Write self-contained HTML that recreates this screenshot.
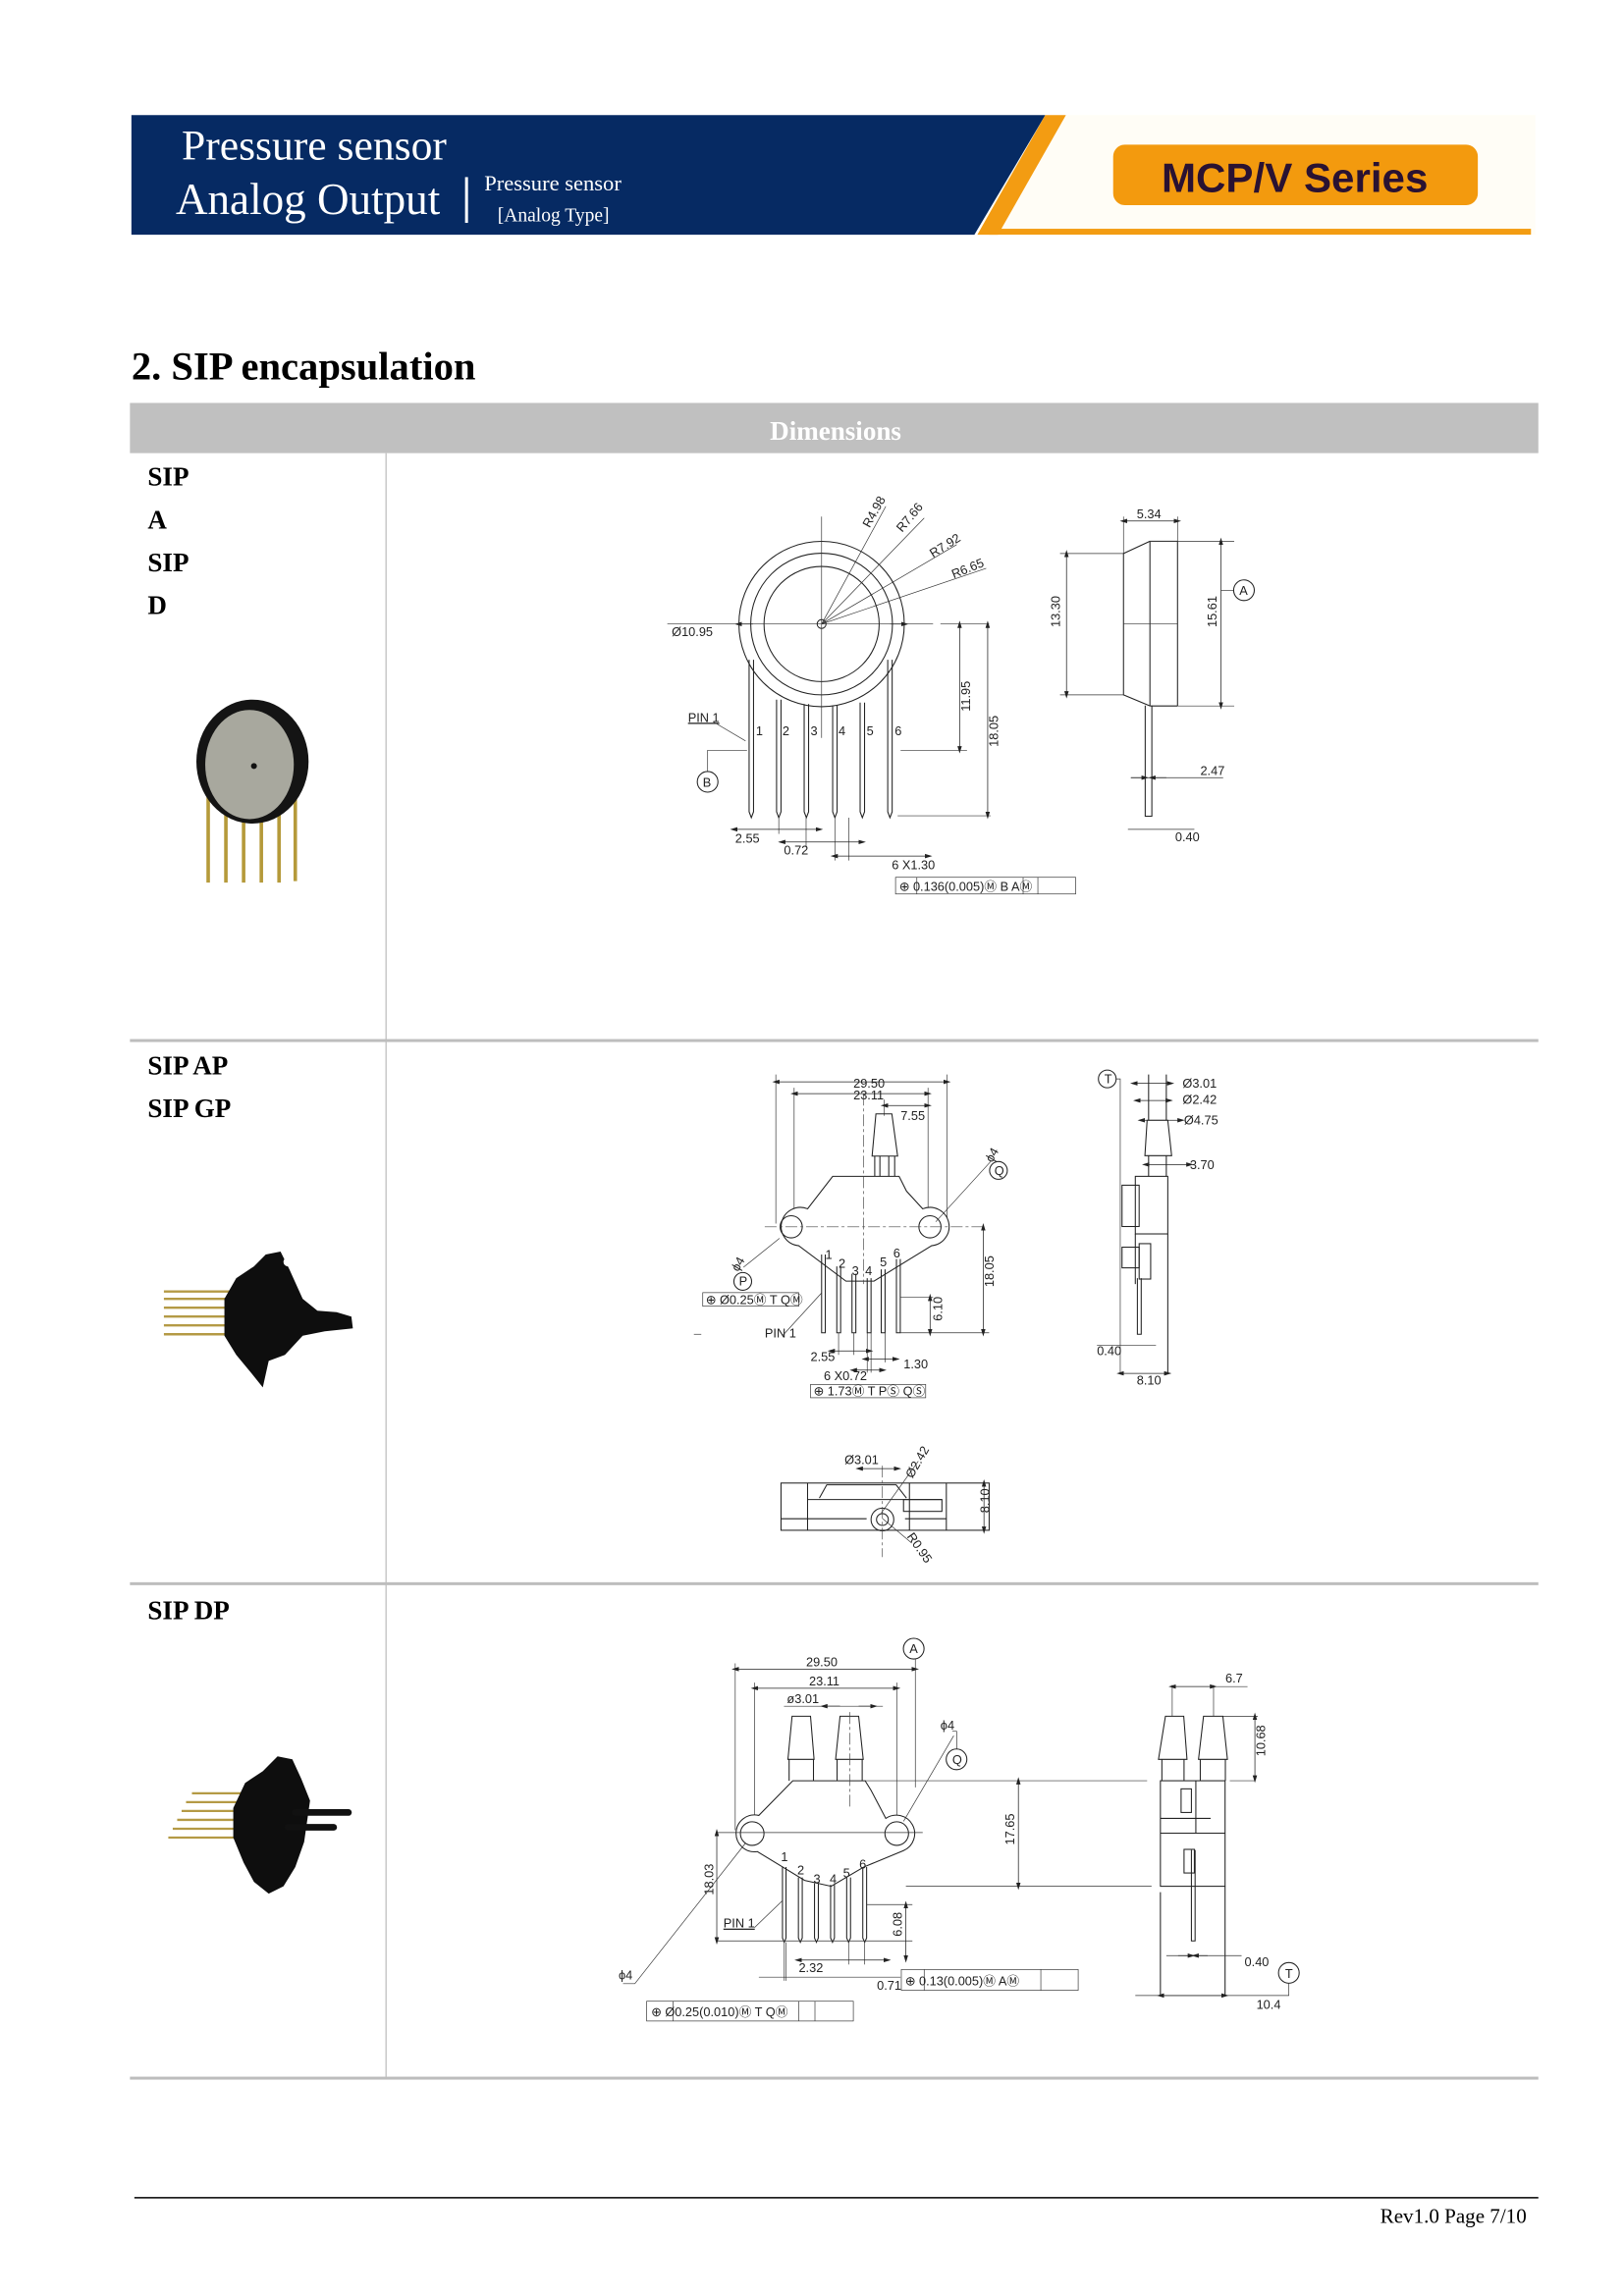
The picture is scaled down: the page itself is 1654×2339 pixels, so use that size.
<!DOCTYPE html>
<html><head><meta charset="utf-8"><style>
html,body{margin:0;padding:0;background:#fff;}
svg{display:block;}
.l{stroke:#222;stroke-width:0.7;fill:none;}
.t{stroke:#333;stroke-width:0.45;fill:none;}
.d{stroke:#222;stroke-width:0.5;fill:none;marker-start:url(#a);marker-end:url(#a);}
.c{stroke:#444;stroke-width:0.45;fill:none;stroke-dasharray:8 2 2 2;}
.tx{font-family:"Liberation Sans Narrow","Liberation Sans",sans-serif;font-size:8.5px;fill:#222;}
.lab{font-family:"Liberation Serif",serif;font-weight:bold;font-size:18px;fill:#000;}
</style></head><body>
<svg width="1654" height="2339" viewBox="0 0 1100 1555.6" xmlns="http://www.w3.org/2000/svg">
<defs>
<marker id="a" viewBox="0 0 10 10" refX="5" refY="5" markerWidth="5" markerHeight="5" markerUnits="userSpaceOnUse" orient="auto-start-reverse"><path d="M0,2 L10,5 L0,8 Z" fill="#222"/></marker>
</defs>

<!-- Header -->
<rect x="668" y="78" width="372" height="81" fill="#fffdf6"/>
<polygon points="89,78 708,78 660,159 89,159" fill="#062a63"/>
<polygon points="708,78 722,78 676,159 662,159" fill="#f39c12"/>
<rect x="670" y="155" width="367" height="4" fill="#f39c12"/>
<rect x="754" y="98" width="247" height="41" rx="8" fill="#f39a0e"/>
<text x="877" y="130" text-anchor="middle" font-family="Liberation Sans,sans-serif" font-weight="bold" font-size="28" fill="#2a1232">MCP/V Series</text>
<text x="123" y="108" font-family="Liberation Serif,serif" font-size="29" fill="#fff">Pressure sensor</text>
<text x="119" y="145" font-family="Liberation Serif,serif" font-size="30" fill="#fff">Analog Output</text>
<rect x="315" y="120" width="2" height="31" fill="#fff"/>
<text x="328" y="129" font-family="Liberation Serif,serif" font-size="15" fill="#fff">Pressure sensor</text>
<text x="337" y="150" font-family="Liberation Serif,serif" font-size="13" fill="#fff">[Analog Type]</text>

<!-- Title -->
<text x="89" y="257" font-family="Liberation Serif,serif" font-weight="bold" font-size="27" fill="#000">2. SIP encapsulation</text>
<rect x="88" y="273" width="954" height="34" fill="#c0c0c0"/>
<text x="566" y="298" text-anchor="middle" font-family="Liberation Serif,serif" font-weight="bold" font-size="18" fill="#fff">Dimensions</text>
<line x1="261.5" y1="307" x2="261.5" y2="1408" stroke="#c8c8c8" stroke-width="1"/>
<rect x="88" y="704" width="954" height="2" fill="#bdbdbd"/>
<rect x="88" y="1072" width="954" height="2" fill="#bdbdbd"/>
<rect x="88" y="1407" width="954" height="2" fill="#bdbdbd"/>
<text class="lab" x="100" y="329">SIP</text>
<text class="lab" x="100" y="358">A</text>
<text class="lab" x="100" y="387">SIP</text>
<text class="lab" x="100" y="416">D</text>
<text class="lab" x="100" y="728">SIP AP</text>
<text class="lab" x="100" y="757">SIP GP</text>
<text class="lab" x="100" y="1097">SIP DP</text>

<!-- Footer -->
<line x1="91" y1="1489" x2="1042" y2="1489" stroke="#000" stroke-width="1"/>
<text x="1034" y="1506" text-anchor="end" font-family="Liberation Serif,serif" font-size="14" fill="#000">Rev1.0 Page 7/10</text>

<!-- Photo 1 -->
<g stroke="#b59a3a" stroke-width="2.4">
<line x1="141" y1="540" x2="141" y2="598"/><line x1="153" y1="540" x2="153" y2="598"/><line x1="165" y1="540" x2="165" y2="598"/><line x1="177" y1="540" x2="177" y2="598"/><line x1="189" y1="540" x2="189" y2="598"/><line x1="200" y1="535" x2="200" y2="597"/>
</g>
<ellipse cx="171" cy="516" rx="38" ry="42" fill="#141414"/>
<ellipse cx="169" cy="518" rx="30" ry="37" fill="#a8a89e"/>
<circle cx="172" cy="519" r="2" fill="#111"/>

<!-- Photo 2 -->
<g stroke="#b49a45" stroke-width="1.6">
<line x1="111" y1="875" x2="160" y2="875"/><line x1="111" y1="880" x2="160" y2="880"/><line x1="111" y1="886" x2="160" y2="886"/><line x1="111" y1="892" x2="160" y2="892"/><line x1="111" y1="898" x2="160" y2="898"/><line x1="111" y1="904" x2="160" y2="904"/>
</g>
<polygon points="152,880 160,866 172,858 180,850 190,848 196,860 205,880 215,888 228,889 238,892 239,900 220,902 205,905 193,918 182,922 178,940 170,930 160,918 152,905" fill="#0e0e0e"/>
<circle cx="195" cy="855" r="3" fill="#fff"/>

<!-- Photo 3 -->
<g stroke="#b49a45" stroke-width="1.5">
<line x1="130" y1="1215" x2="165" y2="1215"/><line x1="126" y1="1221" x2="163" y2="1221"/><line x1="123" y1="1227" x2="162" y2="1227"/><line x1="120" y1="1233" x2="160" y2="1233"/><line x1="117" y1="1239" x2="160" y2="1239"/><line x1="114" y1="1245" x2="160" y2="1245"/>
</g>
<polygon points="158,1225 166,1208 178,1200 188,1190 198,1192 204,1205 210,1220 206,1248 200,1265 192,1278 182,1283 172,1275 165,1262 158,1245" fill="#0e0e0e"/>
<line x1="200" y1="1228" x2="236" y2="1228" stroke="#111" stroke-width="4.5" stroke-linecap="round"/>
<line x1="195" y1="1238" x2="226" y2="1238" stroke="#111" stroke-width="4.5" stroke-linecap="round"/>

<!-- Drawing 1 -->
<circle class="l" cx="556.5" cy="422.8" r="56"/>
<circle class="l" cx="556.5" cy="422.8" r="48"/>
<circle class="l" cx="556.5" cy="422.8" r="39"/>
<circle class="l" cx="556.5" cy="422.8" r="3"/>
<line class="t" x1="556.5" y1="350" x2="556.5" y2="500"/>
<line class="t" x1="452" y1="422.8" x2="632" y2="422.8"/>
<line class="t" x1="637" y1="422.8" x2="670" y2="422.8"/>
<line class="d" x1="510" y1="422.8" x2="500" y2="422.8" style="marker-start:none"/>
<line class="d" x1="603" y1="422.8" x2="613" y2="422.8" style="marker-start:none"/>
<text class="tx" x="455" y="431">Ø10.95</text>
<g class="t">
<line x1="556.5" y1="422.8" x2="600" y2="343"/><line x1="556.5" y1="422.8" x2="626" y2="351"/><line x1="556.5" y1="422.8" x2="648" y2="369"/><line x1="556.5" y1="422.8" x2="668" y2="385"/>
</g>
<text class="tx" transform="translate(589,358) rotate(-61)">R4.98</text>
<text class="tx" transform="translate(611,361) rotate(-50)">R7.66</text>
<text class="tx" transform="translate(632,378) rotate(-32)">R7.92</text>
<text class="tx" transform="translate(646,392) rotate(-22)">R6.65</text>
<g class="l">
<path d="M507.4,447 V550 L508.9,554 L510.4,550 V447"/>
<path d="M526,474 V550 L527.5,554 L529,550 V474"/>
<path d="M544.7,477 V550 L546.2,554 L547.7,550 V477"/>
<path d="M564,478 V550 L565.5,554 L567,550 V478"/>
<path d="M582.6,476 V550 L584.1,554 L585.6,550 V476"/>
<path d="M601.3,447 V550 L602.8,554 L604.3,550 V447"/>
</g>
<g class="tx"><text x="512" y="498">1</text><text x="530" y="498">2</text><text x="549" y="498">3</text><text x="568" y="498">4</text><text x="587" y="498">5</text><text x="606" y="498">6</text></g>
<text class="tx" x="466" y="489" text-decoration="underline">PIN 1</text>
<line class="t" x1="483" y1="489" x2="505" y2="502"/>
<circle class="l" cx="479.3" cy="529.7" r="7"/>
<text class="tx" x="476" y="533" font-size="8">B</text>
<polyline class="t" points="479.3,522.7 479.3,508.3 506,508.3"/>
<line class="t" x1="610" y1="508.3" x2="655" y2="508.3"/>
<line class="t" x1="608" y1="552.7" x2="671" y2="552.7"/>
<line class="d" x1="650" y1="423" x2="650" y2="508"/>
<line class="d" x1="669" y1="423" x2="669" y2="552.5"/>
<text class="tx" transform="translate(657,482) rotate(-90)">11.95</text>
<text class="tx" transform="translate(676,506) rotate(-90)">18.05</text>
<line class="t" x1="527.5" y1="554" x2="527.5" y2="565"/><line class="t" x1="546" y1="554" x2="546" y2="574"/><line class="t" x1="565.5" y1="554" x2="565.5" y2="583"/><line class="t" x1="575" y1="554" x2="575" y2="583"/>
<line class="d" x1="497" y1="561.9" x2="555" y2="561.9"/>
<text class="tx" x="498" y="571">2.55</text>
<line class="d" x1="529.5" y1="570.5" x2="584" y2="570.5"/>
<text class="tx" x="531" y="579">0.72</text>
<line class="d" x1="565" y1="580" x2="629" y2="580"/>
<text class="tx" x="604" y="589">6 X1.30</text>
<rect class="t" x="606.6" y="594.4" width="122" height="11.3"/>
<line class="t" x1="621" y1="594.4" x2="621" y2="605.7"/><line class="t" x1="693" y1="594.4" x2="693" y2="605.7"/><line class="t" x1="703" y1="594.4" x2="703" y2="605.7"/>
<text class="tx" x="609" y="603.5">⊕ 0.136(0.005)Ⓜ  B AⓂ</text>
<g class="l">
<polyline points="778.9,366.7 761,375 761,470.8 778.9,478.3"/>
<line x1="778.9" y1="366.7" x2="778.9" y2="478.3"/>
<line x1="797.6" y1="366.7" x2="797.6" y2="478.3"/>
<line x1="778.9" y1="366.7" x2="797.6" y2="366.7"/>
<line x1="778.9" y1="478.3" x2="797.6" y2="478.3"/>
<path d="M775.7,478 V553 H780.2 V478"/>
</g>
<line class="t" x1="761" y1="422.8" x2="797.6" y2="422.8"/>
<line class="t" x1="718" y1="375" x2="761" y2="375"/><line class="t" x1="718" y1="470.8" x2="761" y2="470.8"/>
<line class="t" x1="797.6" y1="366.7" x2="836" y2="366.7"/><line class="t" x1="797.6" y1="478.3" x2="836" y2="478.3"/>
<line class="d" x1="722.4" y1="375" x2="722.4" y2="470.8"/>
<text class="tx" transform="translate(718,425) rotate(-90)">13.30</text>
<line class="d" x1="827" y1="366.7" x2="827" y2="478.3"/>
<text class="tx" transform="translate(824,425) rotate(-90)">15.61</text>
<line class="t" x1="827" y1="400" x2="835.6" y2="400"/>
<circle class="l" cx="842.6" cy="399.9" r="7"/><text class="tx" x="839.5" y="403" font-size="8">A</text>
<line class="t" x1="761" y1="350" x2="761" y2="375"/><line class="t" x1="797.6" y1="350" x2="797.6" y2="366.7"/>
<line class="d" x1="761" y1="353" x2="797.6" y2="353"/>
<text class="tx" x="770" y="351">5.34</text>
<line class="t" x1="766" y1="526.9" x2="828.5" y2="526.9"/>
<line class="d" x1="766" y1="526.9" x2="775.7" y2="526.9" style="marker-start:none"/>
<line class="d" x1="790" y1="526.9" x2="780.2" y2="526.9" style="marker-start:none"/>
<text class="tx" x="813" y="525">2.47</text>
<line class="t" x1="764" y1="561.9" x2="809" y2="561.9"/>
<text class="tx" x="796" y="570">0.40</text>

<!-- Drawing 2 -->
<g class="t">
<line x1="525.5" y1="728" x2="525.5" y2="829"/><line x1="641.5" y1="728" x2="641.5" y2="829"/>
<line x1="537.9" y1="737" x2="537.9" y2="829"/><line x1="628.6" y1="737" x2="628.6" y2="829"/>
<line x1="599" y1="745" x2="599" y2="756"/>
</g>
<line class="d" x1="525.5" y1="733" x2="641.5" y2="733"/><text class="tx" x="578" y="737" font-size="6.5">29.50</text>
<line class="d" x1="537.9" y1="741" x2="628.6" y2="741"/><text class="tx" x="578" y="745" font-size="6.5">23.11</text>
<line class="d" x1="599" y1="749" x2="628.6" y2="749"/><text class="tx" x="610" y="759" font-size="6.5">7.55</text>
<g class="l">
<path d="M593.3,754.7 L604.1,754.7 L608,783.3 L590.7,783.3 Z"/>
<path d="M592.5,783.3 V797 M596,783.3 V797 M602,783.3 V797 M606,783.3 V797"/>
<path d="M564,797 L609,797 L614,807 L625,819 A13,13 0 1,1 631,844 L592,868 L573,868 L541,844 A13,13 0 1,1 547,819 Z" fill="#fff"/>
<circle cx="535.9" cy="831.2" r="7.5"/><circle cx="629.9" cy="831.2" r="7.5"/>
</g>
<line class="c" x1="518" y1="831.2" x2="666" y2="831.2"/>
<line class="c" x1="584.8" y1="741" x2="584.8" y2="870"/>
<g class="l">
<path d="M556.5,850 V903 H559 V850"/><path d="M566.8,858 V903 H569.4 V858"/><path d="M577.1,863 V903 H579.7 V863"/><path d="M587.4,866 V903 H590 V866"/><path d="M596.9,860 V903 H599.5 V860"/><path d="M607.2,853 V903 H609.8 V853"/>
</g>
<g class="tx" font-size="7"><text x="559" y="853">1</text><text x="568" y="859">2</text><text x="577" y="864">3</text><text x="586" y="864">4</text><text x="596" y="858">5</text><text x="605" y="852">6</text></g>
<line class="t" x1="610" y1="903" x2="670" y2="903"/>
<line class="d" x1="666" y1="831.2" x2="666" y2="903"/>
<text class="tx" transform="translate(673,872) rotate(-90)" font-size="6.5">18.05</text>
<line class="t" x1="610" y1="879" x2="632" y2="879"/>
<line class="d" x1="630" y1="879" x2="630" y2="903"/>
<text class="tx" transform="translate(638,895) rotate(-90)" font-size="6.5">6.10</text>
<circle class="l" cx="503.1" cy="868.2" r="6"/><text class="tx" x="500.5" y="871" font-size="7">P</text>
<line class="t" x1="528" y1="839" x2="503.6" y2="858.6"/>
<text class="tx" transform="translate(500,862) rotate(-60)" font-size="6.5">ϕ4</text>
<circle class="l" cx="676.3" cy="793" r="6"/><text class="tx" x="673.5" y="796" font-size="7">Q</text>
<line class="t" x1="633.8" y1="827.8" x2="671" y2="787"/>
<text class="tx" transform="translate(672,788) rotate(-60)" font-size="6.5">ϕ4</text>
<rect class="t" x="476" y="875.8" width="65" height="9.2"/>
<text class="tx" x="478" y="883.5" font-size="7.5">⊕ Ø0.25Ⓜ T QⓂ</text>
<line class="t" x1="556.5" y1="876" x2="530" y2="905"/>
<text class="tx" x="518" y="906" font-size="6.5">PIN 1</text>
<line class="t" x1="470" y1="904" x2="475" y2="904"/>
<line class="t" x1="568" y1="903" x2="568" y2="918"/><line class="t" x1="578.4" y1="903" x2="578.4" y2="918"/><line class="t" x1="587.4" y1="903" x2="587.4" y2="930"/><line class="t" x1="590" y1="903" x2="590" y2="930"/><line class="t" x1="599.5" y1="903" x2="599.5" y2="923"/>
<line class="d" x1="563" y1="915.3" x2="589" y2="915.3"/><text class="tx" x="549" y="922" font-size="6.5">2.55</text>
<line class="d" x1="586" y1="920.8" x2="607" y2="920.8"/><text class="tx" x="612" y="927" font-size="6.5">1.30</text>
<line class="d" x1="578" y1="928.3" x2="598" y2="928.3"/><text class="tx" x="558" y="935" font-size="6.5">6 X0.72</text>
<rect class="t" x="549" y="938" width="78" height="9"/>
<text class="tx" x="551" y="945.5" font-size="7.5">⊕ 1.73Ⓜ T PⓈ QⓈ</text>
<circle class="l" cx="750" cy="731" r="6"/><text class="tx" x="748" y="734" font-size="7">T</text>
<polyline class="t" points="756,731 758.8,731 758.8,930.5"/>
<g class="l">
<path d="M778,728 V759 M790,728 V759"/>
<path d="M777,759 L791,759 L793.6,783 L775.5,783 Z"/>
<path d="M778,783 V797 M790,783 V797"/>
<rect x="769" y="797" width="22" height="39"/>
<rect x="760" y="803" width="11.6" height="28"/>
<rect x="771.6" y="842.6" width="7.8" height="24"/>
<rect x="760" y="845" width="11.6" height="14"/>
<line x1="791" y1="836" x2="791" y2="930.5"/>
<line x1="769" y1="836" x2="769" y2="870"/>
<path d="M770.4,866 V904 H773 V866"/>
</g>
<line class="d" x1="768" y1="734" x2="793" y2="734"/><text class="tx" x="801" y="737" font-size="6">Ø3.01</text>
<line class="d" x1="770" y1="745.6" x2="792" y2="745.6"/><text class="tx" x="801" y="748" font-size="6">Ø2.42</text>
<line class="d" x1="773" y1="759" x2="800" y2="759"/><text class="tx" x="802" y="762" font-size="6">Ø4.75</text>
<line class="d" x1="776" y1="789" x2="806" y2="789"/><text class="tx" x="806" y="792" font-size="6">3.70</text>
<line class="t" x1="743" y1="911.6" x2="783" y2="911.6"/><text class="tx" x="743" y="918" font-size="6">0.40</text>
<line class="d" x1="758.8" y1="930.5" x2="791" y2="930.5"/><text class="tx" x="770" y="938" font-size="6">8.10</text>
<g class="l">
<rect x="529" y="1004.8" width="141" height="32"/>
<line x1="547" y1="1004.8" x2="547" y2="1036.8"/>
<line x1="616" y1="1004.8" x2="616" y2="1036.8"/>
<line x1="641" y1="1004.8" x2="641" y2="1036.8"/>
<path d="M555,1015 L560,1006 L607,1006 L614,1015"/>
<line x1="547" y1="1016" x2="638" y2="1016"/>
<rect x="612" y="1016" width="26" height="8"/>
<line x1="529" y1="1029" x2="587" y2="1029"/>
<line x1="613" y1="1029" x2="641" y2="1029"/>
<circle cx="597.7" cy="1029.5" r="7.7"/><circle cx="597.7" cy="1029.5" r="4"/>
</g>
<line class="c" x1="597.7" y1="993" x2="597.7" y2="1055"/>
<line class="d" x1="582" y1="995" x2="608" y2="995"/><text class="tx" x="572" y="992" font-size="6">Ø3.01</text>
<line class="t" x1="597" y1="1025" x2="622" y2="990"/>
<text class="tx" transform="translate(618,1002) rotate(-60)" font-size="6">Ø2.42</text>
<line class="t" x1="598" y1="1029" x2="617" y2="1045"/>
<text class="tx" transform="translate(614,1041) rotate(55)" font-size="6">R0.95</text>
<line class="d" x1="666.5" y1="1004.8" x2="666.5" y2="1036.8"/>
<text class="tx" transform="translate(670,1025) rotate(-90)" font-size="6">8.10</text>

<!-- Drawing 3 -->
<circle class="l" cx="618.9" cy="1117" r="7"/><text class="tx" x="616" y="1120" font-size="8">A</text>
<line class="t" x1="620" y1="1124" x2="620" y2="1211"/>
<line class="t" x1="498" y1="1127" x2="498" y2="1240"/>
<line class="t" x1="511" y1="1140" x2="511" y2="1240"/>
<line class="t" x1="607.4" y1="1140" x2="607.4" y2="1240"/>
<line class="d" x1="498" y1="1130.9" x2="620" y2="1130.9"/><text class="tx" x="546" y="1129">29.50</text>
<line class="d" x1="511" y1="1143.8" x2="607.4" y2="1143.8"/><text class="tx" x="548" y="1142">23.11</text>
<line class="t" x1="531" y1="1156" x2="598" y2="1156"/>
<line class="d" x1="569" y1="1156" x2="558" y2="1156" style="marker-start:none"/>
<line class="d" x1="581.6" y1="1156" x2="592" y2="1156" style="marker-start:none"/>
<text class="tx" x="533" y="1154">ø3.01</text>
<g class="l">
<path d="M536.5,1162.8 L549,1162.8 L551.4,1192 L533.7,1192 Z"/>
<path d="M534.5,1192 V1206.5 M551,1192 V1206.5"/>
<path d="M569,1162.8 L581.6,1162.8 L584.7,1192 L566,1192 Z"/>
<path d="M567,1192 V1206.5 M584,1192 V1206.5"/>
<path d="M537,1206.5 L586,1206.5 L590,1213 L600,1232 A12.5,12.5 0 1,1 612,1253.8 L585,1265 L563,1278 L545,1274 L513,1254.5 A12.5,12.5 0 1,1 514,1230 Z" fill="#fff"/>
<circle cx="509.5" cy="1242.3" r="8"/><circle cx="607.4" cy="1242.3" r="8"/>
</g>
<line class="c" x1="575.5" y1="1160" x2="575.5" y2="1225"/>
<line class="t" x1="586" y1="1206.5" x2="777" y2="1206.5"/>
<line class="t" x1="833" y1="1206.5" x2="850" y2="1206.5"/>
<line class="t" x1="486" y1="1241.6" x2="625" y2="1241.6"/>
<g class="l">
<path d="M530,1265 V1313 L531.2,1316 L532.4,1313 V1265"/>
<path d="M540.8,1272 V1313 L542.1,1316 L543.4,1313 V1272"/>
<path d="M551.7,1276 V1313 L553,1316 L554.3,1313 V1276"/>
<path d="M562.6,1277 V1313 L563.9,1316 L565.2,1313 V1277"/>
<path d="M573.5,1272 V1313 L574.8,1316 L576.1,1313 V1272"/>
<path d="M584.4,1265 V1313 L585.7,1316 L587,1313 V1265"/>
</g>
<g class="tx"><text x="529" y="1261">1</text><text x="540" y="1270">2</text><text x="551" y="1276">3</text><text x="562" y="1276">4</text><text x="571" y="1272">5</text><text x="582" y="1266">6</text></g>
<line class="t" x1="613.6" y1="1278" x2="780" y2="1278"/>
<line class="d" x1="689.8" y1="1206.5" x2="689.8" y2="1278"/>
<text class="tx" transform="translate(687,1250) rotate(-90)">17.65</text>
<line class="t" x1="485.5" y1="1315" x2="618" y2="1315"/>
<line class="d" x1="485.5" y1="1241.6" x2="485.5" y2="1315"/>
<text class="tx" transform="translate(483,1284) rotate(-90)">18.03</text>
<line class="t" x1="587" y1="1290.4" x2="618" y2="1290.4"/>
<line class="d" x1="613.6" y1="1290.4" x2="613.6" y2="1327.3"/>
<text class="tx" transform="translate(611,1312) rotate(-90)">6.08</text>
<text class="tx" x="490" y="1306" text-decoration="underline">PIN 1</text>
<line class="t" x1="511" y1="1306" x2="529.7" y2="1288"/>
<line class="t" x1="574.8" y1="1316" x2="574.8" y2="1331"/><line class="t" x1="585.7" y1="1316" x2="585.7" y2="1331"/>
<line class="t" x1="531.2" y1="1316" x2="531.2" y2="1342"/><line class="t" x1="532.4" y1="1316" x2="532.4" y2="1342"/>
<line class="d" x1="540.6" y1="1328" x2="601" y2="1328"/><text class="tx" x="541" y="1336">2.32</text>
<line class="t" x1="514" y1="1339.6" x2="610" y2="1339.6"/><text class="tx" x="594" y="1348">0.71</text>
<text class="tx" x="419" y="1341">ϕ4</text>
<polyline class="t" points="422,1344 430,1344 504.8,1249"/>
<text class="tx" x="637" y="1172">ϕ4</text>
<polyline class="t" points="645,1173 648,1173 648,1185"/>
<line class="t" x1="646" y1="1176" x2="612" y2="1234"/>
<circle class="l" cx="647.9" cy="1192" r="7"/><text class="tx" x="645" y="1195" font-size="8">Q</text>
<rect class="t" x="610.5" y="1334.4" width="119.8" height="14.1"/>
<line class="t" x1="626" y1="1334.4" x2="626" y2="1348.5"/><line class="t" x1="705" y1="1334.4" x2="705" y2="1348.5"/>
<text class="tx" x="613" y="1345" font-size="10">⊕ 0.13(0.005)Ⓜ  AⓂ</text>
<rect class="t" x="438" y="1355.9" width="140" height="13.4"/>
<line class="t" x1="456" y1="1355.9" x2="456" y2="1369.3"/><line class="t" x1="541" y1="1355.9" x2="541" y2="1369.3"/><line class="t" x1="552" y1="1355.9" x2="552" y2="1369.3"/>
<text class="tx" x="441" y="1366" font-size="10">⊕ Ø0.25(0.010)Ⓜ  T QⓂ</text>
<line class="t" x1="794" y1="1141.6" x2="794" y2="1162.8"/><line class="t" x1="822" y1="1141.6" x2="822" y2="1162.8"/>
<line class="d" x1="794" y1="1142.7" x2="822" y2="1142.7"/><line class="t" x1="822" y1="1142.7" x2="845" y2="1142.7"/>
<text class="tx" x="830" y="1140">6.7</text>
<line class="t" x1="828" y1="1162.8" x2="852" y2="1162.8"/>
<line class="d" x1="850" y1="1162.8" x2="850" y2="1205.4"/>
<text class="tx" transform="translate(857,1190) rotate(-90)">10.68</text>
<g class="l">
<path d="M789.4,1162.8 L801.8,1162.8 L804,1192 L784.7,1192 Z"/>
<path d="M787,1192 V1206.5 M802,1192 V1206.5"/>
<path d="M815.2,1162.8 L828.3,1162.8 L831.4,1192 L811.8,1192 Z"/>
<path d="M813,1192 V1206.5 M830,1192 V1206.5"/>
<rect x="786" y="1206.5" width="43.8" height="71.5"/>
<rect x="800" y="1212" width="7" height="16"/>
<rect x="802" y="1253" width="7" height="16"/>
<line x1="786" y1="1232" x2="820" y2="1232"/>
<line x1="786" y1="1242" x2="829.8" y2="1242"/>
<line x1="810" y1="1206.5" x2="810" y2="1242"/>
<line x1="829.8" y1="1278" x2="829.8" y2="1352"/>
<line x1="786" y1="1282" x2="786" y2="1352"/>
<path d="M807,1253.4 V1315 H809.5 V1253.4"/>
</g>
<line class="t" x1="790" y1="1325" x2="841" y2="1325"/>
<line class="d" x1="798" y1="1325" x2="807" y2="1325" style="marker-start:none"/>
<line class="d" x1="818" y1="1325" x2="809.5" y2="1325" style="marker-start:none"/>
<text class="tx" x="843" y="1332">0.40</text>
<circle class="l" cx="873" cy="1336.7" r="7"/><text class="tx" x="870.5" y="1340" font-size="8">T</text>
<polyline class="t" points="873,1343.7 873,1352 769,1352"/>
<line class="d" x1="786" y1="1352" x2="829.8" y2="1352"/>
<text class="tx" x="851" y="1361">10.4</text>
</svg>
</body></html>
